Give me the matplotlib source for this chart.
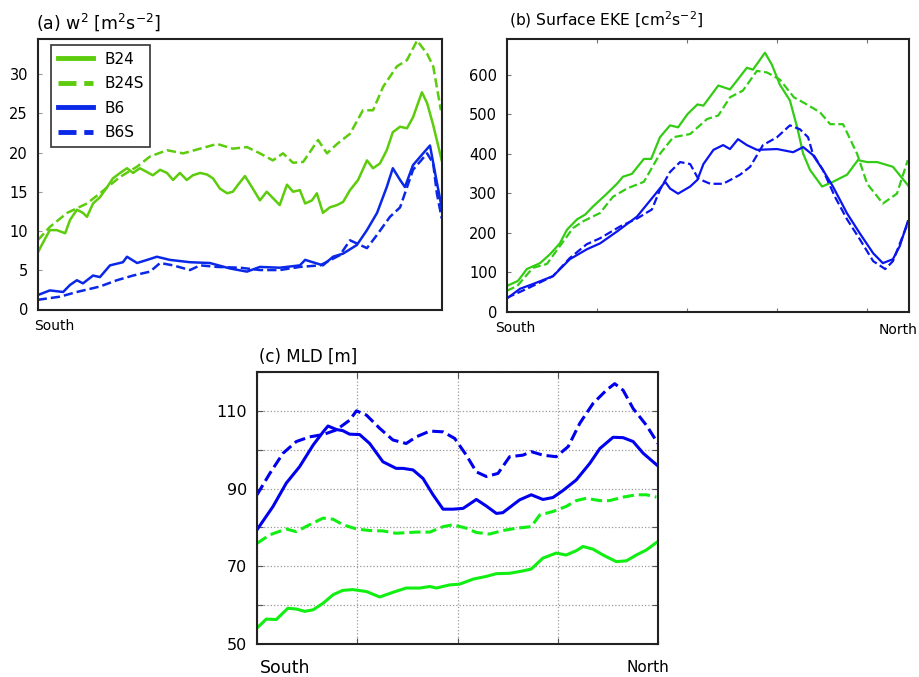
import numpy as np
import matplotlib.pyplot as plt

# ---- (a) w^2 [m2 s-2]  (x = % along section, South -> North)
x_a_b24 = [0, 1.0, 3.0, 4.7, 6.8, 8.0, 9.7, 11.2, 12.2, 13.7, 15.4, 17.2, 18.6, 20.4, 22.1, 23.6,
           25.3, 27.1, 28.5, 30.3, 32.0, 33.5, 35.2, 36.9, 38.4, 40.2, 41.9, 43.4, 45.1, 46.9, 48.3,
           49.6, 51.3, 53.0, 55.0, 56.7, 58.2, 59.9, 61.7, 63.2, 64.9, 66.2, 67.9, 69.1, 70.6, 72.3,
           74.1, 75.6, 77.3, 79.3, 81.5, 83.0, 84.7, 86.4, 87.9, 89.7, 91.4, 92.9, 95.1, 96.4, 97.9, 100]
w2_b24 = [7.2, 8.2, 10.1, 10.1, 9.7, 11.4, 12.7, 12.3, 11.8, 13.5, 14.3, 15.6, 16.7, 17.4, 18.0, 17.4,
          18.0, 17.5, 17.1, 17.8, 17.4, 16.5, 17.4, 16.5, 17.1, 17.4, 17.2, 16.7, 15.4, 14.8, 15.0,
          15.9, 17.0, 15.6, 13.9, 15.0, 14.2, 13.3, 15.9, 15.0, 15.2, 13.5, 13.9, 14.8, 12.3, 13.0,
          13.3, 13.7, 15.2, 16.5, 19.0, 18.0, 18.6, 20.3, 22.6, 23.3, 23.1, 24.5, 27.7, 26.3, 23.5, 19.0]

x_a_b24s = [0, 3.0, 7.3, 12.2, 15.4, 20.4, 24.6, 27.8, 32.0, 36.0, 40.2, 44.4, 48.3, 51.8, 55.0, 58.2,
            60.7, 63.2, 65.7, 69.4, 71.6, 74.1, 77.3, 80.5, 83.0, 85.5, 88.9, 91.4, 93.9, 96.4, 97.9, 99.8]
w2_b24s = [8.8, 10.5, 12.3, 13.5, 14.8, 16.9, 18.2, 19.5, 20.3, 19.9, 20.5, 21.1, 20.5, 20.7, 19.9, 19.0,
           19.9, 18.7, 18.8, 21.6, 19.9, 21.1, 22.4, 25.4, 25.4, 28.4, 31.0, 31.8, 34.3, 32.6, 31.0, 25.4]

x_a_b6 = [0, 3.0, 6.3, 8.0, 9.7, 11.2, 13.7, 15.4, 17.9, 21.1, 22.1, 24.6, 27.1, 29.5, 32.7, 37.7,
          42.6, 47.6, 51.8, 55.0, 59.9, 64.9, 66.2, 70.6, 73.1, 75.6, 79.0, 81.5, 84.0, 86.4, 87.9,
          89.7, 90.9, 92.9, 95.4, 97.1, 98.8, 100]
w2_b6 = [1.8, 2.4, 2.2, 3.1, 3.7, 3.3, 4.3, 4.1, 5.6, 6.0, 6.7, 5.9, 6.3, 6.7, 6.3, 6.0,
         5.9, 5.2, 4.8, 5.4, 5.3, 5.6, 6.3, 5.6, 6.7, 7.1, 8.2, 10.1, 12.3, 15.6, 18.0,
         16.5, 15.6, 18.4, 19.9, 20.9, 16.2, 13.0]

x_a_b6s = [0, 5.5, 9.7, 15.4, 19.6, 23.6, 27.8, 30.3, 33.5, 37.7, 40.2, 44.4, 50.1, 55.0, 59.9, 64.9,
           69.9, 74.8, 77.3, 81.5, 84.0, 87.2, 89.7, 90.9, 92.9, 96.4, 97.9, 98.8, 100]
w2_b6s = [1.2, 1.6, 2.2, 2.9, 3.7, 4.3, 4.8, 5.9, 5.6, 5.0, 5.6, 5.4, 5.3, 5.0, 5.0, 5.4,
          5.6, 6.9, 8.8, 7.8, 9.5, 11.8, 13.0, 14.8, 17.8, 19.9, 18.6, 14.8, 11.6]

# ---- (b) Surface EKE [cm2 s-2]
x_b_b24 = [0, 2.8, 5.0, 8.3, 10.8, 13.2, 15.0, 17.5, 19.5, 21.4, 24.9, 27.4, 28.9, 31.1, 34.1, 35.9,
           38.1, 40.6, 42.6, 44.9, 47.4, 48.9, 52.6, 55.5, 57.2, 59.7, 61.2, 64.2, 65.9, 67.9, 70.4,
           72.2, 73.7, 75.4, 78.4, 81.1, 84.6, 87.3, 89.6, 92.1, 96.0, 100]
eke_b24 = [65, 78, 108, 123, 146, 173, 208, 234, 246, 266, 299, 324, 342, 349, 387, 387,
           442, 472, 467, 500, 525, 522, 573, 563, 585, 618, 613, 656, 626, 575, 535,
           467, 400, 359, 317, 329, 347, 384, 379, 379, 367, 317]

x_b_b24s = [0, 2.6, 6.5, 10.0, 13.2, 16.5, 19.0, 23.2, 26.4, 29.9, 34.1, 38.1, 41.4, 45.6, 49.8, 52.6,
            55.5, 58.7, 62.2, 64.7, 67.9, 71.4, 74.6, 77.9, 80.4, 83.6, 87.1, 89.6, 93.5, 97.0, 99.7]
eke_b24s = [53, 65, 111, 121, 166, 212, 229, 250, 291, 312, 329, 400, 442, 450, 488, 497,
            543, 560, 610, 606, 588, 543, 525, 505, 475, 475, 400, 324, 274, 299, 384]

x_b_b6 = [0, 3.3, 6.5, 11.5, 15.7, 19.9, 23.2, 27.4, 32.4, 36.4, 39.4, 40.6, 42.6, 45.6, 47.4, 48.9,
          51.4, 53.8, 55.5, 57.5, 59.7, 62.2, 67.2, 71.2, 73.7, 76.1, 78.6, 81.1, 84.6, 87.8, 91.1,
          93.5, 96.0, 97.7, 99.7]
eke_b6 = [33, 58, 70, 90, 133, 158, 173, 203, 241, 291, 329, 312, 299, 317, 334, 374,
          410, 422, 412, 437, 422, 410, 412, 404, 417, 397, 359, 317, 249, 198, 148,
          123, 133, 166, 229]

x_b_b6s = [0, 5.0, 11.5, 15.7, 19.9, 23.2, 28.2, 32.4, 36.1, 38.1, 40.6, 43.1, 45.6, 47.6, 50.6, 53.8,
           58.0, 60.5, 63.7, 67.2, 70.4, 72.9, 74.9, 76.1, 78.6, 81.6, 84.6, 87.8, 91.1, 94.1, 96.0, 99.7]
eke_b6s = [35, 58, 90, 136, 171, 186, 216, 236, 259, 309, 354, 379, 374, 337, 324, 324,
           347, 367, 422, 442, 472, 462, 442, 400, 359, 291, 234, 183, 128, 108, 128, 224]

# ---- (c) MLD [m]
x_c_b6s = [0, 3.2, 6.5, 9.8, 13.1, 16.5, 19.8, 23.1, 24.8, 27.3, 30.6, 33.9, 37.2, 39.7, 43.1, 46.4,
           49.3, 52.2, 54.7, 57.2, 60.1, 63.0, 66.3, 68.4, 71.3, 74.6, 77.6, 80.5, 83.8, 87.1, 89.2,
           91.3, 93.8, 97.1, 100]
mld_b6s = [88.4, 93.9, 99.1, 102.1, 103.3, 103.9, 105.1, 107.6, 110.0, 108.9, 105.5, 102.5, 101.6, 103.3,
           104.8, 104.6, 102.9, 98.6, 94.3, 93.1, 93.9, 98.2, 98.6, 99.5, 98.6, 98.2, 100.8, 106.8,
           111.9, 115.3, 117.0, 115.3, 110.6, 106.3, 101.6]

x_c_b6 = [0, 4.0, 7.3, 10.6, 14.0, 16.5, 17.7, 19.8, 21.4, 23.1, 25.6, 28.1, 31.4, 34.7, 36.4, 38.9,
          41.4, 43.9, 46.4, 48.9, 51.4, 54.7, 57.2, 59.7, 61.3, 65.5, 68.4, 71.3, 73.8, 76.3, 79.6,
          83.0, 85.5, 88.8, 91.3, 93.8, 96.3, 100]
mld_b6 = [79.4, 85.4, 91.4, 95.6, 101.2, 104.6, 106.1, 105.2, 104.9, 104.0, 103.9, 101.6, 96.9, 95.2,
          95.2, 94.8, 92.6, 88.4, 84.7, 84.7, 84.9, 87.2, 85.5, 83.6, 83.8, 87.1, 88.4, 87.2, 87.7,
          89.5, 92.2, 96.5, 100.3, 103.2, 103.1, 102.1, 99.1, 95.8]

x_c_b24s = [0, 3.2, 7.3, 9.8, 13.1, 16.5, 19.0, 21.4, 24.8, 28.1, 31.4, 34.7, 39.7, 43.1, 46.4, 48.9,
            52.2, 54.7, 58.0, 61.3, 64.7, 68.4, 70.5, 73.8, 77.1, 79.6, 82.1, 85.5, 87.9, 91.3, 94.6,
            97.1, 99.6]
mld_b24s = [75.9, 78.1, 79.6, 78.9, 80.7, 82.4, 82.1, 80.7, 79.6, 79.2, 79.1, 78.5, 78.8, 78.8, 80.2,
            80.7, 79.8, 78.7, 78.3, 79.2, 79.8, 80.2, 83.2, 84.1, 85.4, 86.9, 87.5, 86.9, 86.9, 87.8,
            88.4, 88.4, 87.8]

x_c_b24 = [0, 2.3, 4.8, 7.7, 9.8, 11.9, 14.0, 16.5, 19.0, 21.4, 23.9, 27.3, 30.6, 33.9, 37.2, 40.6,
           43.1, 44.7, 48.0, 50.5, 53.9, 57.2, 59.7, 63.0, 66.3, 68.4, 71.3, 74.6, 77.1, 79.6, 81.3,
           83.8, 86.3, 89.6, 92.1, 94.6, 97.1, 99.6]
mld_b24 = [54.1, 56.4, 56.3, 59.2, 59.0, 58.4, 58.8, 60.5, 62.7, 63.8, 64.0, 63.5, 62.1, 63.3, 64.4,
           64.4, 64.8, 64.4, 65.2, 65.4, 66.7, 67.4, 68.1, 68.2, 68.8, 69.3, 72.1, 73.4, 72.9, 74.0,
           75.1, 74.4, 72.9, 71.2, 71.4, 72.9, 74.2, 76.1]

W, H = 919, 677
fig = plt.figure(figsize=(W / 100, H / 100), dpi=100)


def box(l, r, t, b):
    return [l / W, (H - b) / H, (r - l) / W, (b - t) / H]


def frame(ax):
    for s in ax.spines.values():
        s.set_linewidth(1.5)
        s.set_color('#222222')


# (a)
ga, ba = '#5ccc0c', '#0a28e8'
ax1 = fig.add_axes(box(37.7, 441.7, 39, 310))
ax1.plot(x_a_b24, w2_b24, color=ga, lw=1.8, label='B24')
ax1.plot(x_a_b24s, w2_b24s, color=ga, lw=1.8, ls='--', label='B24S')
ax1.plot(x_a_b6, w2_b6, color=ba, lw=1.8, label='B6')
ax1.plot(x_a_b6s, w2_b6s, color=ba, lw=1.8, ls='--', label='B6S')
ax1.set_xlim(0, 100)
ax1.set_ylim(-0.1, 34.5)
ax1.set_yticks([0, 5, 10, 15, 20, 25, 30])
ax1.set_xticks([])
ax1.tick_params(axis='y', direction='in', length=3, color='#999999', labelsize=10.5, pad=7)
frame(ax1)
leg = ax1.legend(loc='upper left', bbox_to_anchor=(0.032, 0.978), borderaxespad=0, fontsize=11,
                 frameon=True, fancybox=False, edgecolor='black', handlelength=2.3, borderpad=0.45,
                 labelspacing=0.62, handletextpad=0.75)
leg.get_frame().set_linewidth(1.2)
for ln in leg.get_lines():
    ln.set_linewidth(3.5)
ax1.text(-0.004, 1.063, r'(a) w$^2$ [m$^2$s$^{-2}$]', transform=ax1.transAxes, fontsize=12.5,
         ha='left', va='center')
ax1.text(-0.009, -0.059, 'South', transform=ax1.transAxes, fontsize=10, ha='left', va='center')

# (b)
gb, bb = '#33cc14', '#0a14ee'
ax2 = fig.add_axes(box(506.7, 909, 39.3, 311.7))
ax2.plot(x_b_b24, eke_b24, color=gb, lw=1.6)
ax2.plot(x_b_b24s, eke_b24s, color=gb, lw=1.6, ls='--')
ax2.plot(x_b_b6, eke_b6, color=bb, lw=1.6)
ax2.plot(x_b_b6s, eke_b6s, color=bb, lw=1.6, ls='--')
ax2.set_xlim(0, 100)
ax2.set_ylim(0, 690)
ax2.set_yticks([0, 100, 200, 300, 400, 500, 600])
ax2.set_xticks([22.4, 44.8, 67.2, 89.6])
ax2.set_xticklabels([])
ax2.tick_params(axis='both', direction='in', length=3, color='#777777', labelsize=10.5, pad=7,
                top=True)
frame(ax2)
ax2.text(0.006, 1.071, r'(b) Surface EKE [cm$^2$s$^{-2}$]', transform=ax2.transAxes, fontsize=11.2,
         ha='left', va='center')
ax2.text(-0.029, -0.06, 'South', transform=ax2.transAxes, fontsize=10, ha='left', va='center')
ax2.text(1.022, -0.067, 'North', transform=ax2.transAxes, fontsize=10, ha='right', va='center')

# (c)
gc, bc = '#11ee11', '#0000ee'
ax3 = fig.add_axes(box(257, 658, 372, 644))
ax3.plot(x_c_b6s, mld_b6s, color=bc, lw=2.2, ls='--')
ax3.plot(x_c_b6, mld_b6, color=bc, lw=2.2)
ax3.plot(x_c_b24s, mld_b24s, color=gc, lw=2.2, ls='--')
ax3.plot(x_c_b24, mld_b24, color=gc, lw=2.2)
ax3.set_xlim(0, 100)
ax3.set_ylim(50, 120)
ax3.set_xticks([0, 25, 50, 75, 100])
ax3.set_xticklabels([])
ax3.set_yticks([50, 60, 70, 80, 90, 100, 110, 120])
ax3.set_yticklabels(['50', '', '70', '', '90', '', '110', ''])
ax3.grid(True, ls=':', color='#999999', lw=0.9)
ax3.tick_params(axis='both', direction='in', length=4, color='#555555', labelsize=11.5, pad=7,
                top=True, right=True)
frame(ax3)
ax3.text(0.005, 1.055, '(c) MLD [m]', transform=ax3.transAxes, fontsize=12,
         ha='left', va='center')
ax3.text(0.0075, -0.088, 'South', transform=ax3.transAxes, fontsize=12.5, ha='left', va='center')
ax3.text(1.027, -0.087, 'North', transform=ax3.transAxes, fontsize=11, ha='right', va='center')

fig.savefig('out.png', dpi=100)
